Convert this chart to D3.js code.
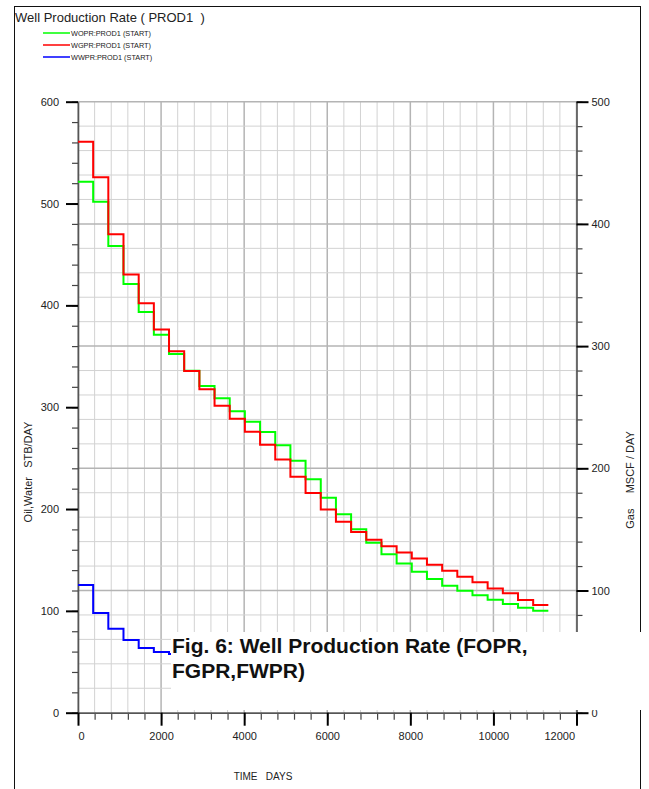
<!DOCTYPE html>
<html><head><meta charset="utf-8">
<script src="https://cdn.jsdelivr.net/npm/d3@7/dist/d3.min.js"></script>
<style>
html,body{margin:0;padding:0;background:#fff;}
svg{display:block;}
</style></head><body>
<svg id="chart" width="649" height="789"></svg>
<script>
// ---- data ----
const timeDays = [0,365,730,1095,1461,1826,2191,2556,2922,3287,3652,4017,4383,4748,5113,5478,5844,6209,6574,6939,7305,7670,8035,8400,8766,9131,9496,9861,10227,10592,10957,11322];
const woprValues = [521.4,501.8,458.3,421.0,393.5,371.2,352.2,335.8,320.8,308.7,296.0,285.8,275.6,262.6,247.5,229.2,211.1,194.8,180.1,166.9,155.5,146.5,138.5,131.3,124.6,119.7,115.3,110.9,106.7,103.1,100.2];
const wgprValues = [467.2,438.2,391.5,358.5,335.0,313.5,295.7,279.7,264.7,251.2,240.6,229.9,219.3,207.2,193.1,179.7,166.3,156.2,147.8,141.5,136.3,131.1,126.1,121.1,116.2,111.3,106.7,101.7,97.8,92.3,88.2];
const wwprValues = [125.4,97.9,82.5,71.4,63.5,59.6,57.6];
const leftTicks = [0,100,200,300,400,500,600];
const rightTicks = [0,100,200,300,400,500];
const xTicks = [0,2000,4000,6000,8000,10000,12000];
const seriesNames = ["WOPR:PROD1 (START)","WGPR:PROD1 (START)","WWPR:PROD1 (START)"];
const seriesColors = ["#00ff00","#ff0000","#0000ff"];
const titleText = "Well Production Rate ( PROD1  )";
const captionLines = ["Fig. 6: Well Production Rate (FOPR,","FGPR,FWPR)"];

const FONT = "'Liberation Sans', Arial, sans-serif";
const svg = d3.select("#chart").style("font-family", FONT);

const x = d3.scaleLinear().domain([0,12000]).range([78,576.5]);
const yL = d3.scaleLinear().domain([0,600]).range([712.7,101.7]);
const yR = d3.scaleLinear().domain([0,500]).range([712.7,101.7]);

// frame
svg.append("rect").attr("x",14.5).attr("y",6.5).attr("width",626).attr("height",820)
  .attr("fill","none").attr("stroke","#111").attr("stroke-width",1);

// title
svg.append("text").attr("x",15).attr("y",22).attr("font-size",13).attr("fill","#222")
  .style("white-space","pre").text(titleText);

// legend
seriesNames.forEach((n,i)=>{
  const yy = 33 + i*12;
  svg.append("line").attr("x1",43).attr("x2",70).attr("y1",yy).attr("y2",yy)
    .attr("stroke",seriesColors[i]).attr("stroke-width",1.5);
  svg.append("text").attr("x",71).attr("y",yy+2.7).attr("font-size",7.3).attr("fill","#222")
    .text(n);
});

// grid
const grid = svg.append("g");
d3.range(0,12001,400).forEach(v=>{
  const major = v % 2000 === 0;
  grid.append("line").attr("x1",x(v)).attr("x2",x(v)).attr("y1",yR(500)).attr("y2",yR(0))
    .attr("stroke", major ? "#b4b4b4" : "#d2d2d2").attr("stroke-width", major ? 1.5 : 1);
});
d3.range(0,501,20).forEach(v=>{
  const major = v % 100 === 0;
  grid.append("line").attr("x1",x(0)).attr("x2",x(12000)).attr("y1",yR(v)).attr("y2",yR(v))
    .attr("stroke", major ? "#b4b4b4" : "#d2d2d2").attr("stroke-width", major ? 1.5 : 1);
});

function styleAxis(g, minor){
  g.selectAll(".tick line").attr("stroke", minor ? "#444" : "#000").attr("stroke-width", minor ? 1.2 : 2);
  g.selectAll(".tick text").attr("font-size",11).attr("fill","#222").attr("font-family",FONT);
  g.select(".domain").attr("stroke","#555").attr("stroke-width",1.6);
}

// left axis
const gLm = svg.append("g").attr("transform",`translate(${x(0)},0)`)
  .call(d3.axisLeft(yL).tickValues(d3.range(0,601,20)).tickSize(6).tickFormat(""));
styleAxis(gLm,true); gLm.select(".domain").remove();
const gL = svg.append("g").attr("transform",`translate(${x(0)},0)`)
  .call(d3.axisLeft(yL).tickValues(leftTicks).tickSize(12).tickPadding(7).tickSizeOuter(0).tickFormat(d3.format("d")));
styleAxis(gL,false);

// right axis
const gRm = svg.append("g").attr("transform",`translate(${x(12000)},0)`)
  .call(d3.axisRight(yR).tickValues(d3.range(0,501,20)).tickSize(6).tickFormat(""));
styleAxis(gRm,true); gRm.select(".domain").remove();
const gR = svg.append("g").attr("transform",`translate(${x(12000)},0)`)
  .call(d3.axisRight(yR).tickValues(rightTicks).tickSize(12).tickPadding(3).tickSizeOuter(0).tickFormat(d3.format("d")));
styleAxis(gR,false);

// bottom axis
const gBm = svg.append("g").attr("transform",`translate(0,${yL(0)})`)
  .call(d3.axisBottom(x).tickValues(d3.range(0,12001,400)).tickSize(7).tickFormat(""));
styleAxis(gBm,true); gBm.select(".domain").remove();
const gB = svg.append("g").attr("transform",`translate(0,${yL(0)})`)
  .call(d3.axisBottom(x).tickValues(xTicks).tickSize(13).tickPadding(7).tickSizeOuter(0).tickFormat(d3.format("d")));
styleAxis(gB,false);
gB.selectAll(".tick text").filter(d=>d===12000).attr("text-anchor","end").attr("x",-2);
gB.selectAll(".tick text").filter(d=>d===0).attr("text-anchor","start").attr("x",0);

// axis titles
svg.append("text").attr("x",263).attr("y",780).attr("font-size",10).attr("fill","#222")
  .attr("text-anchor","middle").style("white-space","pre").text("TIME   DAYS");
svg.append("text").attr("transform","translate(32,472) rotate(-90)").attr("font-size",11).attr("fill","#222")
  .attr("text-anchor","middle").style("white-space","pre").text("Oil,Water   STB/DAY");
svg.append("text").attr("transform","translate(634,480) rotate(-90)").attr("font-size",11).attr("fill","#222")
  .attr("text-anchor","middle").style("white-space","pre").text("Gas     MSCF / DAY");

// step lines
function stepPoints(vals){
  const pts = vals.map((v,i)=>[timeDays[i], v]);
  pts.push([timeDays[vals.length], vals[vals.length-1]]);
  return pts;
}
const lineL = d3.line().x(d=>x(d[0])).y(d=>yL(d[1])).curve(d3.curveStepAfter);
const lineR = d3.line().x(d=>x(d[0])).y(d=>yR(d[1])).curve(d3.curveStepAfter);
svg.append("path").attr("d",lineL(stepPoints(woprValues))).attr("fill","none")
  .attr("stroke",seriesColors[0]).attr("stroke-width",2);
svg.append("path").attr("d",lineR(stepPoints(wgprValues))).attr("fill","none")
  .attr("stroke",seriesColors[1]).attr("stroke-width",2);
svg.append("path").attr("d",lineL(stepPoints(wwprValues))).attr("fill","none")
  .attr("stroke",seriesColors[2]).attr("stroke-width",2);

// caption overlay box
svg.append("rect").attr("x",171).attr("y",632).attr("width",478).attr("height",78).attr("fill","#fff");
captionLines.forEach((t,i)=>{
  svg.append("text").attr("x",172).attr("y",653+i*25).attr("font-size",21).attr("font-weight","bold")
    .attr("fill","#111").text(t);
});
</script>
</body></html>
